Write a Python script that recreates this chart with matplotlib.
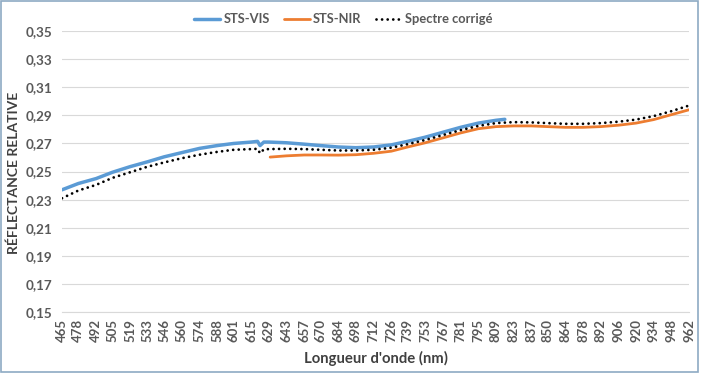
import matplotlib
matplotlib.use("Agg")
import matplotlib.pyplot as plt
from matplotlib.patches import Rectangle

# Data
tick_labels = [465, 478, 492, 505, 519, 533, 546, 560, 574, 588, 601, 615, 629, 643, 657, 670,
               684, 698, 712, 726, 739, 753, 767, 781, 795, 809, 823, 837, 850, 864, 878, 892,
               906, 920, 934, 948, 962]

vis_wl = [465, 478, 492, 505, 519, 533, 546, 560, 574, 588, 601, 615, 620, 622, 625, 629,
          643, 657, 670, 684, 698, 712, 726, 739, 753, 767, 781, 795, 809, 816]
vis_val = [0.237, 0.2415, 0.245, 0.2495, 0.2535, 0.257, 0.2605, 0.2635, 0.2665, 0.2685,
           0.270, 0.271, 0.2715, 0.2685, 0.271, 0.271, 0.2705, 0.2695, 0.2685, 0.2675,
           0.267, 0.2675, 0.269, 0.2715, 0.2745, 0.278, 0.2815, 0.2845, 0.2865, 0.2872]

nir_wl = [630, 643, 657, 670, 684, 698, 712, 726, 739, 753, 767, 781, 795, 809, 823, 837,
          850, 864, 878, 892, 906, 920, 934, 948, 962]
nir_val = [0.2603, 0.2612, 0.2618, 0.2618, 0.2617, 0.262, 0.263, 0.2645, 0.2675, 0.2705,
           0.274, 0.2775, 0.2805, 0.282, 0.2825, 0.2825, 0.282, 0.2815, 0.2815, 0.282,
           0.283, 0.2845, 0.287, 0.2905, 0.294]

cor_wl = [465, 478, 492, 505, 519, 533, 546, 560, 574, 588, 601, 615, 620, 622, 625, 629,
          643, 657, 670, 684, 698, 712, 726, 739, 753, 767, 781, 795, 809, 823, 837, 850,
          864, 878, 892, 906, 920, 934, 948, 962]
cor_val = [0.231, 0.2365, 0.2405, 0.2455, 0.2495, 0.2535, 0.2565, 0.2595, 0.262, 0.264,
           0.2655, 0.266, 0.2662, 0.263, 0.2658, 0.266, 0.2662, 0.266, 0.2655, 0.265,
           0.265, 0.2655, 0.267, 0.2695, 0.2725, 0.276, 0.2795, 0.2825, 0.2845, 0.2852,
           0.285, 0.2845, 0.284, 0.284, 0.2845, 0.2855, 0.287, 0.2895, 0.293, 0.297]

y_ticks = [0.15, 0.17, 0.19, 0.21, 0.23, 0.25, 0.27, 0.29, 0.31, 0.33, 0.35]

FONT = "Lato"
TXT = "#595959"

fig = plt.figure(figsize=(7.02, 3.75), dpi=100)
ax = fig.add_axes([0.0883, 0.168, 0.8932, 0.749])

ax.plot(vis_wl, vis_val, color="#5b9bd5", lw=2.5, solid_capstyle="round", label="STS-VIS", zorder=3)
ax.plot(nir_wl, nir_val, color="#ed7d31", lw=2.0, solid_capstyle="round", label="STS-NIR", zorder=3)
ax.plot(cor_wl, cor_val, color="black", lw=2.0, linestyle=(0, (0.01, 2.0)),
        dash_capstyle="round", label="Spectre corrigé", zorder=4)

ax.set_xlim(465, 962)
ax.set_ylim(0.15, 0.35)
ax.set_xticks(tick_labels)
ax.set_xticklabels([str(t) for t in tick_labels], rotation=90, fontsize=9.5,
                   fontweight="bold", color=TXT, family=FONT)
ax.set_yticks(y_ticks)
ax.set_yticklabels([f"{v:.2f}".replace(".", ",") for v in y_ticks], fontsize=9.7,
                   fontweight="bold", color=TXT, family=FONT)
ax.tick_params(axis="x", length=0, pad=5)
ax.tick_params(axis="y", length=0, pad=7)
ax.grid(axis="y", color="#d9d9d9", lw=0.8)
ax.set_axisbelow(True)
for s in ["top", "right", "left"]:
    ax.spines[s].set_visible(False)
ax.spines["bottom"].set_color("#d9d9d9")
ax.spines["bottom"].set_linewidth(0.8)

fig.text(0.02, 0.54, "RÉFLECTANCE RELATIVE", rotation=90, ha="center", va="center",
         fontsize=10, fontweight="bold", color="#404040", family=FONT)
fig.text(0.535, 0.045, "Longueur d'onde (nm)", ha="center", va="center",
         fontsize=10.7, fontweight="bold", color="#404040", family=FONT)

leg = fig.legend(loc="center", bbox_to_anchor=(0.489, 0.949), ncol=3, frameon=False,
                 prop={"family": FONT, "weight": "bold", "size": 9.3},
                 handlelength=2.0, handletextpad=0.25, columnspacing=1.1)
for t in leg.get_texts():
    t.set_color(TXT)

fig.patches.append(Rectangle((0.001, 0.008), 0.993, 0.99, transform=fig.transFigure,
                             fill=False, edgecolor="#8eaac4", lw=1.2))

fig.savefig("out.png", dpi=100)
